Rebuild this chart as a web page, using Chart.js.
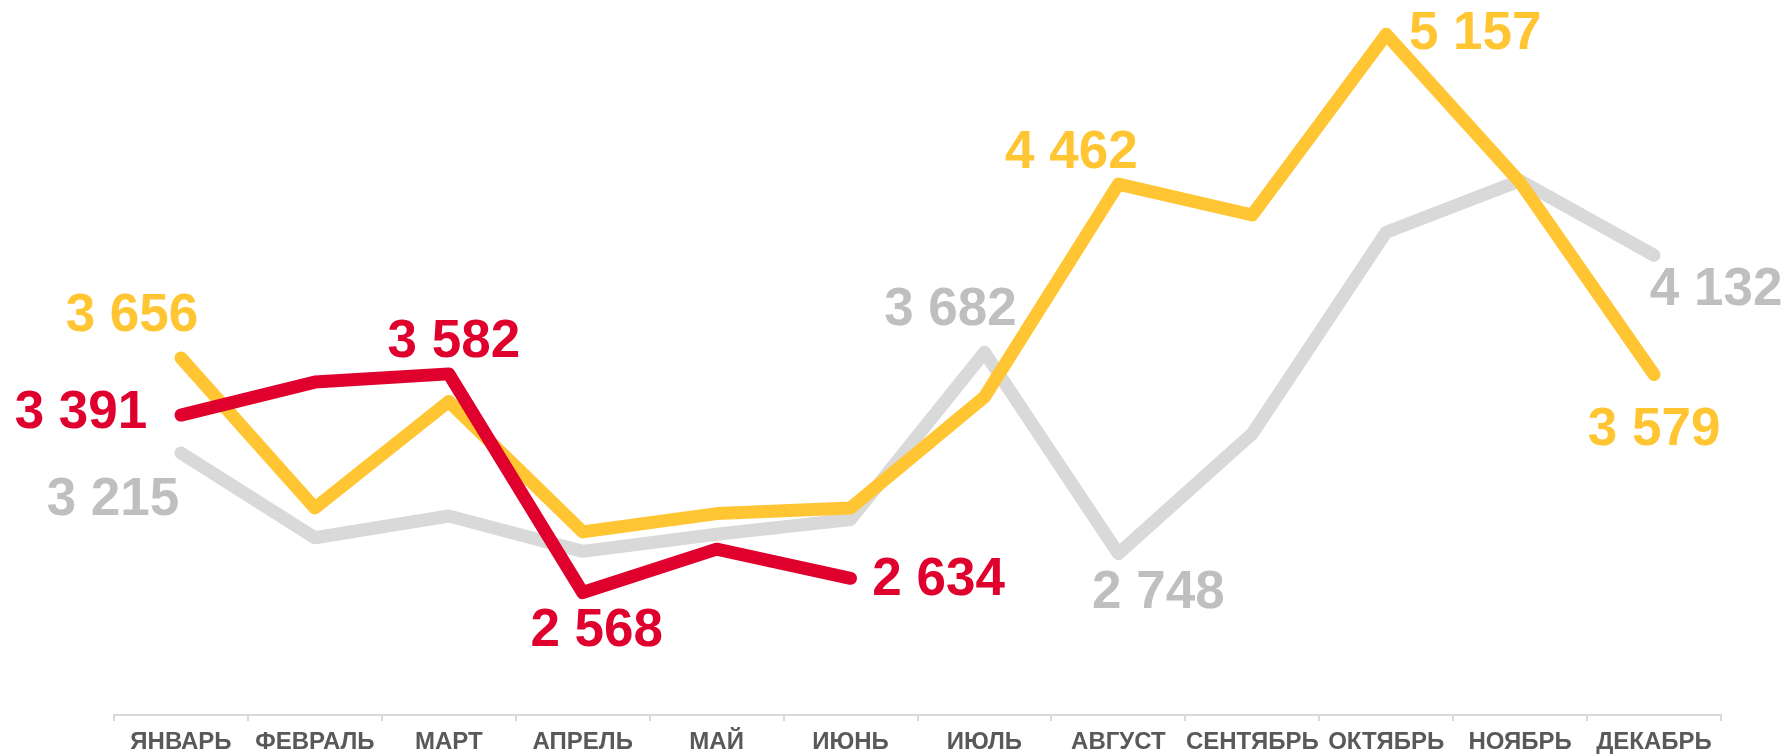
<!DOCTYPE html>
<html>
<head>
    <title>Продажи по месяцам</title>
    <style>
        * {
            margin: 0;
            padding: 0;
            box-sizing: border-box;
        }

        body {
            background: #fff;
            width: 1788px;
            height: 754px;
            overflow: hidden;
        }
    </style>
</head>
<body>
    <canvas id="salesChart" width="1788" height="754"></canvas>
    <script src="https://cdn.jsdelivr.net/npm/chart.js"></script>
    <script>
        // Данные
        var months = ['ЯНВАРЬ', 'ФЕВРАЛЬ', 'МАРТ', 'АПРЕЛЬ', 'МАЙ', 'ИЮНЬ',
                      'ИЮЛЬ', 'АВГУСТ', 'СЕНТЯБРЬ', 'ОКТЯБРЬ', 'НОЯБРЬ', 'ДЕКАБРЬ'];
        var grayValues = [3215, 2822, 2923, 2759, 2838, 2907, 3682, 2748, 3305, 4239, 4478, 4132];
        var yellowValues = [3656, 2960, 3454, 2849, 2934, 2960, 3475, 4462, 4319, 5157, 4470, 3579];
        var redValues = [3391, 3544, 3582, 2568, 2769, 2634, null, null, null, null, null, null];

        // какие точки подписаны (индекс месяца)
        var grayLabeled = [0, 6, 7, 11];
        var yellowLabeled = [0, 7, 9, 11];
        var redLabeled = [0, 2, 3, 5];

        // смещения подписей от точки, px
        var labelOffsets = {
            gray: { 0: [-68, 47], 6: [-34, -42], 7: [40, 40], 11: [62, 35] },
            yellow: { 0: [-49, -42], 7: [-47, -31], 9: [89, 0], 11: [0, 56] },
            red: { 0: [-100, -2], 2: [5, -31], 3: [14, 39], 5: [88, 2] }
        };

        function formatNum(v) {
            return String(v).replace(/\B(?=(\d{3})+(?!\d))/g, ' ');
        }

        // Подписи значений
        var valueLabels = {
            id: 'valueLabels',
            afterDatasetsDraw: function (chart) {
                var ctx = chart.ctx;
                ctx.save();
                ctx.font = 'bold 53px "Liberation Sans", Arial, sans-serif';
                ctx.textAlign = 'center';
                ctx.textBaseline = 'middle';
                chart.data.datasets.forEach(function (ds, di) {
                    var meta = chart.getDatasetMeta(di);
                    ds.labeled.forEach(function (i) {
                        var pt = meta.data[i];
                        var off = labelOffsets[ds.key][i];
                        ctx.fillStyle = ds.labelColor;
                        ctx.fillText(formatNum(ds.data[i]), pt.x + off[0], pt.y + off[1]);
                    });
                });
                ctx.restore();
            }
        };

        var ctx = document.getElementById('salesChart').getContext('2d');
        var salesChart = new Chart(ctx, {
            type: 'line',
            data: {
                labels: months,
                datasets: [{
                    key: 'red',
                    data: redValues,
                    labeled: redLabeled,
                    labelColor: '#E0002D',
                    borderColor: '#E0002D',
                    borderWidth: 13,
                    order: 1
                }, {
                    key: 'yellow',
                    data: yellowValues,
                    labeled: yellowLabeled,
                    labelColor: '#FFC532',
                    borderColor: '#FFC532',
                    borderWidth: 13,
                    order: 2
                }, {
                    key: 'gray',
                    data: grayValues,
                    labeled: grayLabeled,
                    labelColor: '#BFBFBF',
                    borderColor: '#D9D9D9',
                    borderWidth: 13,
                    order: 3
                }]
            },
            options: {
                responsive: false,
                animation: false,
                layout: {
                    padding: { left: 114, right: 67, top: 25, bottom: 0 }
                },
                elements: {
                    point: { radius: 0 },
                    line: {
                        tension: 0,
                        borderCapStyle: 'round',
                        borderJoinStyle: 'round'
                    }
                },
                plugins: {
                    legend: { display: false },
                    tooltip: { enabled: false }
                },
                scales: {
                    x: {
                        offset: true,
                        // фиксированная высота оси, чтобы линия оси была на 715px
                        afterFit: function (scale) {
                            scale.height = 39;
                        },
                        grid: {
                            offset: true,
                            drawOnChartArea: false,
                            drawTicks: true,
                            tickLength: 6,
                            color: '#D9D9D9',
                            lineWidth: 2
                        },
                        border: { color: '#D9D9D9', width: 2 },
                        ticks: {
                            autoSkip: false,
                            maxRotation: 0,
                            padding: 9,
                            color: '#595959',
                            font: { family: '"Liberation Sans", Arial, sans-serif', size: 24, weight: 'bold', lineHeight: 1 }
                        }
                    },
                    y: {
                        display: false,
                        min: 2000,
                        max: 5200
                    }
                }
            },
            plugins: [valueLabels]
        });
    </script>
</body>
</html>
